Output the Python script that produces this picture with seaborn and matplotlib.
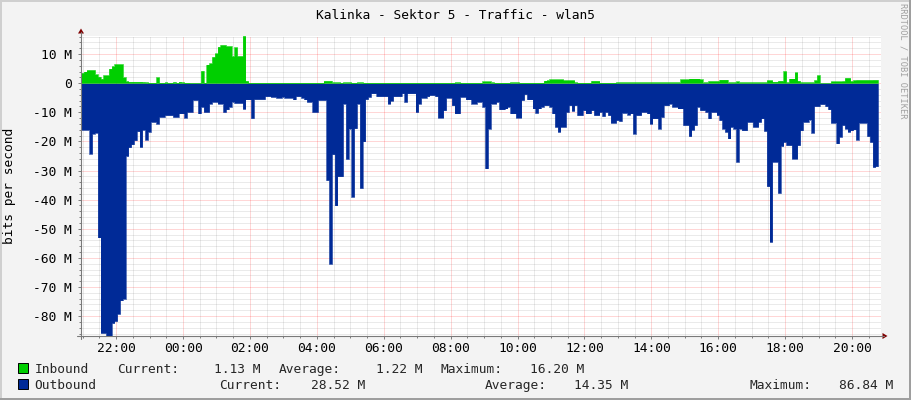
import numpy as np
import pandas as pd
import matplotlib
matplotlib.use("Agg")
import matplotlib.pyplot as plt
import seaborn as sns
from matplotlib.ticker import MultipleLocator, FuncFormatter
from matplotlib.patches import Rectangle, Polygon
from matplotlib.lines import Line2D

# ---------------- data (Mbit/s, 5-minute steps) ----------------
START_HOUR = 20 + 57 / 60      # 20:57 on day 0
STEP_MIN = 5

inbound = [
    3.5, 4.0, 4.5, 4.5, 4.5, 3.0, 2.2, 1.5, 2.7, 2.7, 5.0, 5.8,
    6.5, 6.5, 6.5, 2.0, 0.7, 0.5, 0.5, 0.5, 0.5, 0.5, 0.4, 0.3,
    0.2, 0.2, 0.2, 2.0, 0.2, 0.2, 0.3, 0.2, 0.2, 0.4, 0.2, 0.5,
    0.3, 0.2, 0.2, 0.1, 0.1, 0.1, 0.1, 4.2, 0.2, 6.4, 6.8, 9.0,
    10.2, 12.5, 13.1, 13.1, 12.7, 12.7, 9.3, 12.3, 9.3, 9.3, 16.2, 0.8,
    0.2, 0.2, 0.2, 0.2, 0.2, 0.2, 0.2, 0.2, 0.2, 0.2, 0.2, 0.2,
    0.2, 0.2, 0.2, 0.2, 0.2, 0.2, 0.2, 0.2, 0.2, 0.2, 0.2, 0.2,
    0.2, 0.2, 0.2, 0.8, 0.8, 0.8, 0.3, 0.3, 0.3, 0.2, 0.3, 0.3,
    0.3, 0.2, 0.2, 0.3, 0.3, 0.2, 0.2, 0.2, 0.2, 0.2, 0.2, 0.2,
    0.2, 0.2, 0.2, 0.2, 0.2, 0.2, 0.2, 0.2, 0.2, 0.2, 0.2, 0.2,
    0.2, 0.2, 0.2, 0.2, 0.2, 0.2, 0.2, 0.2, 0.2, 0.2, 0.2, 0.2,
    0.2, 0.2, 0.3, 0.3, 0.2, 0.2, 0.2, 0.2, 0.2, 0.2, 0.2, 0.2,
    0.6, 0.6, 0.6, 0.3, 0.2, 0.2, 0.2, 0.2, 0.2, 0.2, 0.3, 0.3,
    0.3, 0.2, 0.2, 0.2, 0.2, 0.2, 0.2, 0.2, 0.2, 0.2, 0.9, 1.0,
    1.3, 1.3, 1.3, 1.3, 1.3, 1.0, 1.0, 1.0, 1.0, 0.3, 0.2, 0.2,
    0.2, 0.2, 0.2, 0.8, 0.8, 0.8, 0.2, 0.2, 0.2, 0.2, 0.2, 0.2,
    0.3, 0.3, 0.3, 0.3, 0.3, 0.3, 0.3, 0.3, 0.3, 0.3, 0.3, 0.3,
    0.3, 0.3, 0.3, 0.3, 0.3, 0.3, 0.3, 0.3, 0.3, 0.3, 0.3, 1.3,
    1.3, 1.3, 1.6, 1.6, 1.6, 1.6, 1.3, 0.3, 0.3, 0.7, 0.7, 0.7,
    0.7, 1.2, 1.2, 1.2, 0.3, 0.3, 0.3, 0.6, 0.3, 0.3, 0.3, 0.3,
    0.3, 0.3, 0.3, 0.3, 0.3, 0.3, 1.0, 1.0, 0.5, 0.5, 0.8, 0.8,
    4.1, 0.3, 1.6, 1.6, 3.7, 0.8, 0.3, 0.3, 0.3, 0.3, 0.3, 1.0,
    2.7, 0.05, 0.05, 0.05, 0.05, 0.6, 0.6, 0.6, 0.6, 0.7, 1.8, 1.8,
    0.7, 1.0, 1.1, 1.1, 1.1, 1.1, 1.1, 1.1, 1.13, 1.13,
]

outbound = [
    16, 16, 16, 24.2, 17.3, 17, 53, 85.8, 85.8, 86.84, 86.84, 82.4,
    81.7, 79.2, 74.6, 74, 25, 22, 21, 19.6, 16.5, 21.9, 16, 19.4,
    16.7, 13.3, 13.3, 13.9, 11.6, 11.6, 11, 11, 11, 11.6, 11.6, 10.4,
    10.4, 11.8, 9.9, 9.9, 5.8, 5.8, 10.4, 8.1, 9.9, 9.9, 7, 6.4,
    6.4, 7.0, 7.0, 9.9, 9.0, 8.1, 6.4, 6.8, 6.8, 6.8, 8.8, 5.6,
    5.6, 12, 5.5, 5.5, 5.5, 5.5, 4.5, 4.5, 4.7, 4.7, 5.0, 5.0,
    4.7, 5.0, 5.0, 5.0, 5.6, 4.5, 4.5, 5.0, 5.6, 6.4, 6.4, 9.9,
    9.9, 5.8, 5.8, 5.8, 33.3, 62, 24.4, 42, 32, 32, 7, 26,
    15.6, 39, 15.5, 7, 36, 20, 5.5, 4.7, 3.5, 3.5, 4.5, 4.5,
    4.5, 4.5, 7, 6, 4.5, 4.5, 4.5, 3.5, 6.4, 3.5, 3.5, 3.5,
    9.9, 7, 5.0, 5.0, 4.5, 4.1, 4.1, 4.5, 11.8, 11.8, 9.3, 5,
    5, 7.6, 10.4, 10.4, 4.7, 4.7, 5.6, 5.6, 7, 7, 6.4, 6.4,
    8.1, 29.3, 15.6, 7, 7, 6.4, 9, 9, 8.7, 8.1, 10.4, 10.4,
    11.8, 11.8, 5.8, 3.8, 5.6, 5.6, 8.7, 10.2, 8.7, 8.1, 7.6, 7.6,
    8.1, 10.4, 15, 16.7, 15, 15, 9.9, 7.6, 9.5, 7.6, 11, 11,
    9.3, 10.4, 10.4, 9.3, 11, 11, 9.9, 11.3, 9.9, 11, 13.6, 13.6,
    12.7, 13, 10.2, 10.2, 10.8, 10.4, 17.3, 11, 11, 9.9, 9.9, 10.4,
    13.9, 12.1, 12.1, 15.6, 11.6, 7.6, 7.6, 7, 8.1, 8.1, 8.7, 8.7,
    14.4, 14.4, 18.2, 16, 14.4, 8.1, 9.3, 9.3, 9.9, 12.1, 9.9, 9.9,
    11, 12.7, 15.6, 16.7, 19, 15, 15.6, 27, 15.6, 16.2, 16.2, 13.3,
    13.3, 15, 15, 13.3, 12.1, 16.4, 35.4, 54.5, 27, 27, 37.7, 21.6,
    20.2, 21.3, 21.3, 25.9, 25.9, 21.3, 16.2, 13.3, 13.3, 12.5, 17, 7.9,
    7.9, 7.2, 7.2, 7.9, 9, 13.6, 13.6, 20.7, 18.4, 14.4, 15.6, 16.7,
    16.2, 15.9, 19.4, 13.6, 13.6, 13.6, 18.2, 20.2, 28.8, 28.52,
]

series_names = ["Inbound", "Outbound"]
series_colors = ["#00CF00", "#002A97"]
stat_current = ["1.13 M", "28.52 M"]
stat_average = ["1.22 M", "14.35 M"]
stat_maximum = ["16.20 M", "86.84 M"]

title = "Kalinka - Sektor 5 - Traffic - wlan5"
y_label = "bits per second"
watermark = "RRDTOOL / TOBI OETIKER"
y_min, y_max = -86.84, 16.20

# ---------------- style ----------------
sns.set_style("white")
plt.rcParams["font.family"] = ["DejaVu Sans Mono", "DejaVu Sans"]
plt.rcParams["axes.unicode_minus"] = False
FS = 9.3

W, H = 911, 400
PX_PER_HOUR = 33.45
fig = plt.figure(figsize=(W / 100, H / 100), dpi=100, facecolor="#f3f3f3")


def fx(px):
    return px / W


def fy(py):
    return 1 - py / H


ax = fig.add_axes([fx(81), fy(336), 800 / W, 300 / H])
ax.set_facecolor("white")

n = len(inbound)
t = START_HOUR + np.arange(n + 1) * STEP_MIN / 60.0
inb = np.append(inbound, inbound[-1])
outb = -np.append(outbound, outbound[-1])
df = pd.DataFrame({"t": t, "inbound": inb, "outbound": outb})

ax.fill_between(df["t"], 0, df["outbound"], step="post", color=series_colors[1], lw=0, zorder=2)
ax.fill_between(df["t"], 0, df["inbound"], step="post", color=series_colors[0], lw=0, zorder=2)
sns.lineplot(data=df, x="t", y="outbound", drawstyle="steps-post", color=series_colors[1],
             lw=0.4, ax=ax, zorder=2, sort=False)
sns.lineplot(data=df, x="t", y="inbound", drawstyle="steps-post", color=series_colors[0],
             lw=0.4, ax=ax, zorder=2, sort=False)

ax.set_xlim(START_HOUR, START_HOUR + 800 / PX_PER_HOUR)
ax.set_ylim(y_min, y_max)
ax.set_xlabel("")
ax.set_ylabel("")

ax.xaxis.set_major_locator(MultipleLocator(2))
ax.xaxis.set_minor_locator(MultipleLocator(0.5))
ax.yaxis.set_major_locator(MultipleLocator(10))
ax.yaxis.set_minor_locator(MultipleLocator(2))
ax.xaxis.set_major_formatter(FuncFormatter(lambda v, p: f"{int(round(v)) % 24:02d}:00"))
ax.yaxis.set_major_formatter(FuncFormatter(lambda v, p: "0" if abs(v) < 1e-9 else f"{int(round(v))} M"))

ax.set_axisbelow(True)
ax.grid(which="minor", color="#808080", alpha=0.32, lw=0.72, linestyle=(0, (1, 1)))
ax.grid(which="major", color="#ff0000", alpha=0.32, lw=0.72, linestyle=(0, (1, 1)))

for s in ax.spines.values():
    s.set_visible(False)

ax.tick_params(axis="both", which="both", direction="out", color="#808080", width=0.72,
               labelsize=FS, labelcolor="#000000")
ax.tick_params(axis="both", which="major", length=2.2)
ax.tick_params(axis="both", which="minor", length=1.5)
ax.tick_params(axis="y", which="major", pad=4.2)
ax.tick_params(axis="x", which="major", pad=1.8)
ax.tick_params(left=True, bottom=True, which="both")

# axis lines and arrows (figure pixel space)
axis_col = "#7a7a7a"
fig.add_artist(Line2D([fx(81), fx(81)], [fy(339), fy(32)], color=axis_col, lw=0.8))
fig.add_artist(Line2D([fx(77), fx(884)], [fy(336), fy(336)], color=axis_col, lw=0.8))
fig.add_artist(Polygon([[fx(78), fy(33.5)], [fx(84), fy(33.5)], [fx(81), fy(28.5)]],
                       closed=True, color="#7f0000", lw=0))
fig.add_artist(Polygon([[fx(882.5), fy(333)], [fx(882.5), fy(339)], [fx(887.5), fy(336)]],
                       closed=True, color="#7f0000", lw=0))

# titles
fig.text(fx(455.5), fy(19.3), title, ha="center", va="baseline", fontsize=FS, color="#000000")
fig.text(fx(9.8), fy(186), y_label, rotation=90, ha="center", va="center", fontsize=FS, color="#000000")
fig.text(fx(902.5), fy(61), watermark, rotation=270, ha="center", va="center", fontsize=6.2,
         color="#a0a0a0")

# legend
rows = [373.3, 388.9]
curr_label_x = [116.7, 219.3]
curr_val_x = [260.5, 365.0]
avg_label_x = [279.0, 485.0]
avg_val_x = [422.8, 628.5]
max_label_x = [440.7, 749.3]
max_val_x = [584.2, 892.8]
for k in range(2):
    yb = rows[k]
    fig.add_artist(Rectangle((fx(17.5), fy(yb)), 10 / W, 10 / H, facecolor=series_colors[k],
                             edgecolor="#000000", lw=0.7))
    fig.text(fx(34.3), fy(yb), series_names[k], ha="left", va="baseline", fontsize=FS)
    fig.text(fx(curr_label_x[k]), fy(yb), "Current:", ha="left", va="baseline", fontsize=FS)
    fig.text(fx(curr_val_x[k]), fy(yb), stat_current[k], ha="right", va="baseline", fontsize=FS)
    fig.text(fx(avg_label_x[k]), fy(yb), "Average:", ha="left", va="baseline", fontsize=FS)
    fig.text(fx(avg_val_x[k]), fy(yb), stat_average[k], ha="right", va="baseline", fontsize=FS)
    fig.text(fx(max_label_x[k]), fy(yb), "Maximum:", ha="left", va="baseline", fontsize=FS)
    fig.text(fx(max_val_x[k]), fy(yb), stat_maximum[k], ha="right", va="baseline", fontsize=FS)

# 3D border
fig.add_artist(Rectangle((0, 0), 2 / W, 1, facecolor="#cfcfcf", lw=0))
fig.add_artist(Rectangle((0, 1 - 2 / H), 1, 2 / H, facecolor="#cfcfcf", lw=0))
fig.add_artist(Rectangle((1 - 2 / W, 0), 2 / W, 1, facecolor="#9e9e9e", lw=0))
fig.add_artist(Rectangle((0, 0), 1, 2 / H, facecolor="#9e9e9e", lw=0))

fig.savefig("out.png", dpi=100, facecolor=fig.get_facecolor())
